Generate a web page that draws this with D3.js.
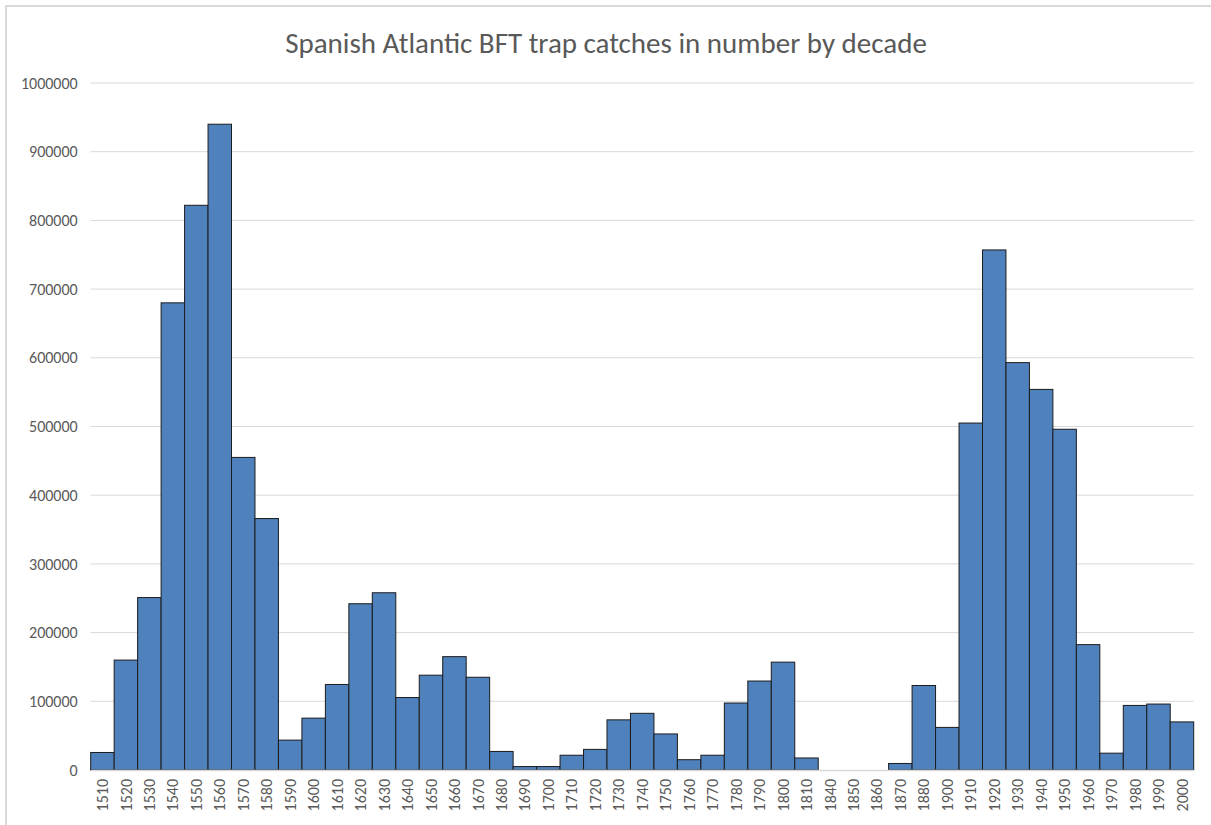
<!DOCTYPE html>
<html>
<head>
<meta charset="utf-8">
<script src="https://cdn.jsdelivr.net/npm/d3@7"></script>
<style>
  body { margin: 0; background: #fff; }
  svg { display: block; }
</style>
</head>
<body>
<svg id="chart" width="1211" height="825"></svg>
<script>
// decades shown on the axis (1820, 1830, 1890 missing in source)
const decades = ["1510","1520","1530","1540","1550","1560","1570","1580","1590","1600",
  "1610","1620","1630","1640","1650","1660","1670","1680","1690","1700",
  "1710","1720","1730","1740","1750","1760","1770","1780","1790","1800",
  "1810","1840","1850","1860","1870","1880","1900","1910","1920","1930",
  "1940","1950","1960","1970","1980","1990","2000"];
// catches in number
const catches = [25500, 160000, 251000, 680000, 822000, 940000, 455000, 366000, 43500, 75500,
  124500, 242000, 258000, 105500, 138000, 165000, 135000, 27000, 5000, 5000,
  21500, 30000, 73000, 82500, 52500, 15000, 21500, 97500, 129500, 157000,
  17500, 0, 0, 0, 9500, 123000, 62000, 505000, 757000, 593000,
  554000, 496000, 182500, 24500, 94000, 96000, 70000];
const yTicks = d3.range(0, 1000001, 100000);

const svg = d3.select("#chart");
const font = "Calibri, Carlito, 'Open Sans', sans-serif";

const x = d3.scaleBand().domain(decades).range([90.7, 1193.7]).padding(0);
const y = d3.scaleLinear().domain([0, 1000000]).range([770, 83]);

// chart frame
svg.append("rect")
  .attr("x", 6).attr("y", 6).attr("width", 1215).attr("height", 830)
  .attr("fill", "none").attr("stroke", "#d9d9d9").attr("stroke-width", 2);

// title
svg.append("text")
  .attr("x", 606).attr("y", 53)
  .attr("text-anchor", "middle")
  .style("font-family", font).style("font-size", "29px")
  .attr("fill", "#595959")
  .text("Spanish Atlantic BFT trap catches in number by decade");

// gridlines
svg.append("g")
  .selectAll("line")
  .data(yTicks.slice(1))
  .join("line")
    .attr("x1", 90.7).attr("x2", 1193.7)
    .attr("y1", d => y(d)).attr("y2", d => y(d))
    .attr("stroke", "#d9d9d9").attr("stroke-width", 1);

// y axis labels
const yAxis = svg.append("g")
  .attr("transform", "translate(90.7,0)")
  .call(d3.axisLeft(y).tickValues(yTicks).tickFormat(d3.format("d")).tickSize(0).tickPadding(13));
yAxis.select(".domain").remove();
yAxis.selectAll("text")
  .style("font-family", font).style("font-size", "16px")
  .attr("fill", "#595959");

// bars
svg.append("g")
  .selectAll("rect")
  .data(decades.map((d, i) => ({decade: d, value: catches[i]})).filter(d => d.value > 0))
  .join("rect")
    .attr("x", d => x(d.decade))
    .attr("y", d => y(d.value))
    .attr("width", x.bandwidth())
    .attr("height", d => y(0) - y(d.value))
    .attr("fill", "#4f81bd")
    .attr("stroke", "#1c1c1c")
    .attr("stroke-width", 1);

// x axis
const xAxis = svg.append("g")
  .attr("transform", "translate(0,770)")
  .call(d3.axisBottom(x).tickSize(0).tickPadding(0));
xAxis.select(".domain").attr("stroke", "#d9d9d9").attr("stroke-width", 1.5);
xAxis.selectAll("text")
  .style("font-family", font).style("font-size", "16px")
  .attr("fill", "#595959")
  .attr("text-anchor", "end")
  .attr("dy", "0.35em")
  .attr("transform", "translate(0,9) rotate(-90)");
</script>
</body>
</html>
